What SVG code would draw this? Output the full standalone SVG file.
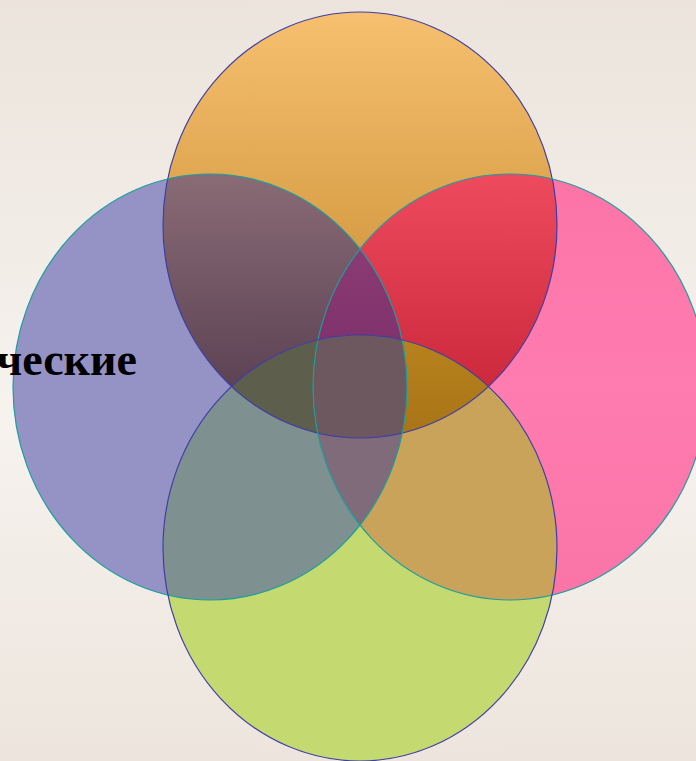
<svg xmlns="http://www.w3.org/2000/svg" xmlns:xlink="http://www.w3.org/1999/xlink" width="696" height="761" viewBox="0 0 696 761">
<style>
.edge-blue{fill:none;stroke:#3E3EA6;stroke-width:1.2}
.edge-teal{fill:none;stroke:#1C9E9E;stroke-width:1.2}
.lbl{font-family:"Liberation Serif","Times New Roman",serif;font-weight:bold;font-size:46px;fill:#000}
</style>
<defs>
<linearGradient id="bg" x1="0" y1="0" x2="0" y2="761" gradientUnits="userSpaceOnUse">
<stop offset="0" stop-color="#ECE4DC"/><stop offset="0.55" stop-color="#F6F2EE"/><stop offset="1" stop-color="#EDE5DD"/>
</linearGradient>
<linearGradient id="gT" x1="0" y1="12" x2="0" y2="438" gradientUnits="userSpaceOnUse">
<stop offset="0" stop-color="#F6C070"/><stop offset="1" stop-color="#C08224"/>
</linearGradient>
<linearGradient id="gTR" x1="0" y1="170" x2="0" y2="400" gradientUnits="userSpaceOnUse">
<stop offset="0" stop-color="#EE4C5E"/><stop offset="1" stop-color="#CA283A"/>
</linearGradient>
<linearGradient id="gTL" x1="0" y1="170" x2="0" y2="400" gradientUnits="userSpaceOnUse">
<stop offset="0" stop-color="#8A6C76"/><stop offset="1" stop-color="#5A4052"/>
</linearGradient>
<linearGradient id="gTLR" x1="0" y1="240" x2="0" y2="345" gradientUnits="userSpaceOnUse">
<stop offset="0" stop-color="#8C3C74"/><stop offset="1" stop-color="#80326C"/>
</linearGradient>
<linearGradient id="gTRB" x1="0" y1="335" x2="0" y2="438" gradientUnits="userSpaceOnUse">
<stop offset="0" stop-color="#B8821E"/><stop offset="1" stop-color="#A87416"/>
</linearGradient>
<linearGradient id="gR" x1="0" y1="173" x2="0" y2="600" gradientUnits="userSpaceOnUse">
<stop offset="0" stop-color="#FC74A6"/><stop offset="0.5" stop-color="#FF7CB0"/><stop offset="1" stop-color="#FA74A6"/>
</linearGradient>
<ellipse id="eT" cx="360" cy="225" rx="197" ry="213"/>
<ellipse id="eL" cx="210" cy="387" rx="197" ry="213"/>
<ellipse id="eR" cx="510" cy="387" rx="197" ry="213"/>
<ellipse id="eB" cx="360" cy="548" rx="197" ry="213"/>
<clipPath id="cT"><use xlink:href="#eT"/></clipPath>
<clipPath id="cL"><use xlink:href="#eL"/></clipPath>
<clipPath id="cR"><use xlink:href="#eR"/></clipPath>
<clipPath id="cB"><use xlink:href="#eB"/></clipPath>
</defs>
<rect x="0" y="0" width="696" height="761" fill="url(#bg)"/>
<g id="node-top"><use xlink:href="#eT" fill="url(#gT)"/></g>
<g id="node-left"><use xlink:href="#eL" fill="#9593C5"/></g>
<g id="node-right"><use xlink:href="#eR" fill="url(#gR)"/></g>
<g id="node-bottom"><use xlink:href="#eB" fill="#C4D96F"/></g>
<g id="overlaps">
<g clip-path="url(#cT)"><g clip-path="url(#cL)"><rect width="696" height="761" fill="url(#gTL)"/></g></g>
<g clip-path="url(#cT)"><g clip-path="url(#cR)"><rect width="696" height="761" fill="url(#gTR)"/></g></g>
<g clip-path="url(#cL)"><g clip-path="url(#cB)"><rect width="696" height="761" fill="#7E908F"/></g></g>
<g clip-path="url(#cR)"><g clip-path="url(#cB)"><rect width="696" height="761" fill="#C9A35A"/></g></g>
<g clip-path="url(#cT)"><g clip-path="url(#cL)"><g clip-path="url(#cR)"><rect width="696" height="761" fill="url(#gTLR)"/></g></g></g>
<g clip-path="url(#cL)"><g clip-path="url(#cR)"><g clip-path="url(#cB)"><rect width="696" height="761" fill="#7F6B79"/></g></g></g>
<g clip-path="url(#cT)"><g clip-path="url(#cL)"><g clip-path="url(#cB)"><rect width="696" height="761" fill="#5E5E4C"/></g></g></g>
<g clip-path="url(#cT)"><g clip-path="url(#cR)"><g clip-path="url(#cB)"><rect width="696" height="761" fill="url(#gTRB)"/></g></g></g>
<g clip-path="url(#cT)"><g clip-path="url(#cL)"><g clip-path="url(#cR)"><g clip-path="url(#cB)"><rect width="696" height="761" fill="#6E5860"/></g></g></g></g>
</g>
<g id="edges">
<use xlink:href="#eT" class="edge-blue"/>
<use xlink:href="#eL" class="edge-teal"/>
<use xlink:href="#eR" class="edge-teal"/>
<use xlink:href="#eB" class="edge-blue"/>
</g>
<g id="connectors"/>
<g id="label"><text class="lbl" x="137" y="375" text-anchor="end">ческие</text></g>
</svg>
